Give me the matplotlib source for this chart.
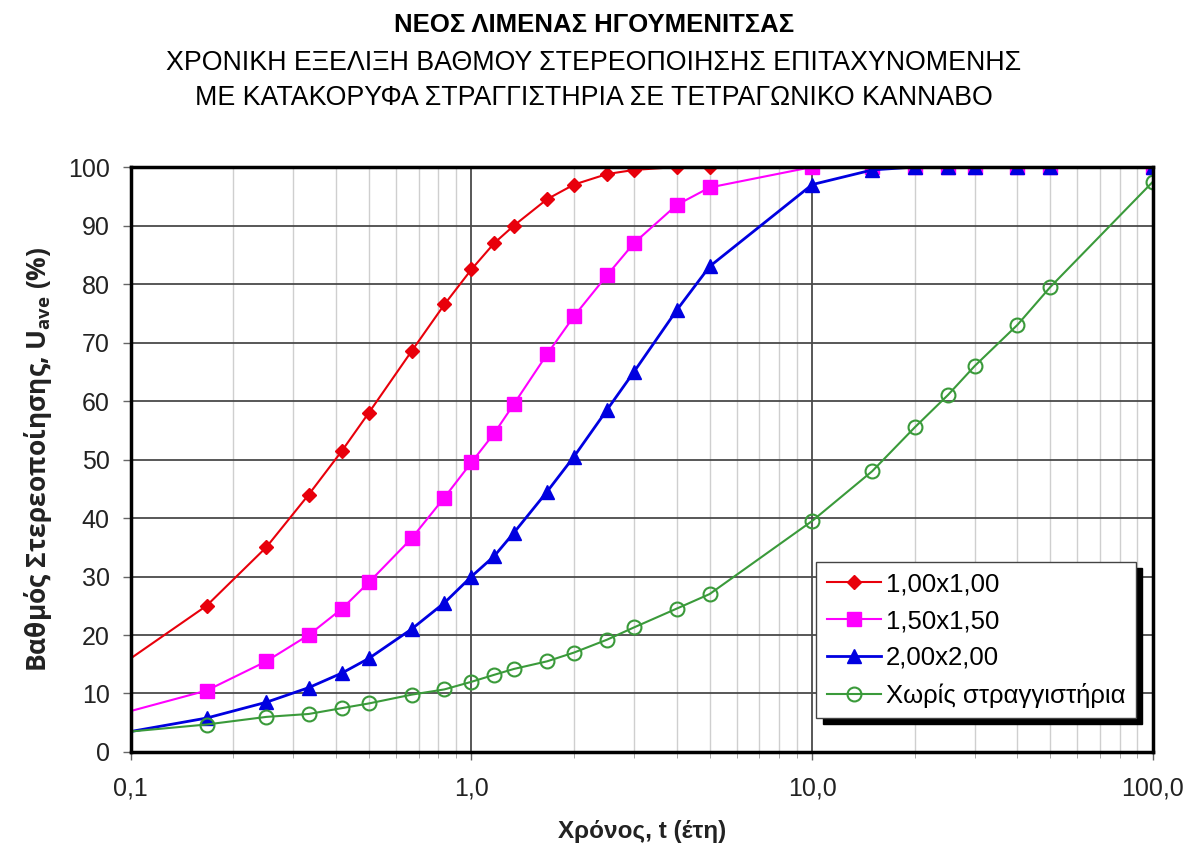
import matplotlib
matplotlib.use("Agg")
import matplotlib.pyplot as plt
from matplotlib.patches import Shadow
from matplotlib.ticker import FixedLocator, LogLocator, NullFormatter

plt.rcParams['font.family'] = ['Liberation Sans', 'DejaVu Sans']

# time in years
t = [0.1, 0.167, 0.25, 0.333, 0.417, 0.5, 0.667, 0.833, 1.0, 1.167, 1.333, 1.667,
     2.0, 2.5, 3.0, 4.0, 5.0, 10.0, 15.0, 20.0, 25.0, 30.0, 40.0, 50.0, 100.0]

u_100 = [16, 25, 35, 44, 51.5, 58, 68.5, 76.5, 82.5, 87, 90, 94.5,
         97, 98.8, 99.5, 100, 100, 100, 100, 100, 100, 100, 100, 100, 100]
u_150 = [7, 10.5, 15.5, 20, 24.5, 29, 36.5, 43.5, 49.5, 54.5, 59.5, 68,
         74.5, 81.5, 87, 93.5, 96.5, 100, 100, 100, 100, 100, 100, 100, 100]
u_200 = [3.5, 5.8, 8.5, 11, 13.5, 16, 21, 25.5, 30, 33.5, 37.5, 44.5,
         50.5, 58.5, 65, 75.5, 83, 97, 99.5, 100, 100, 100, 100, 100, 100]
u_none = [3.5, 4.7, 6, 6.5, 7.5, 8.3, 9.8, 10.7, 12, 13.2, 14.2, 15.5,
          17, 19.2, 21.3, 24.5, 27, 39.5, 48, 55.5, 61, 66, 73, 79.5, 97.5]

labels = ["1,00x1,00", "1,50x1,50", "2,00x2,00", "Χωρίς στραγγιστήρια"]
xtick_vals = [0.1, 1, 10, 100]
xtick_text = ["0,1", "1,0", "10,0", "100,0"]

fig = plt.figure(figsize=(11.88, 8.5), dpi=100)
ax = fig.add_axes([0.110, 0.1153, 0.8605, 0.6882])

ax.plot(t, u_100, color='#E8000B', lw=1.5, marker='D', ms=7, markevery=slice(1, None),
        label=labels[0])
ax.plot(t, u_150, color='#FF00FF', lw=1.5, marker='s', ms=10, markevery=slice(1, None),
        label=labels[1])
ax.plot(t, u_200, color='#0000E0', lw=2.0, marker='^', ms=10, markevery=slice(1, None),
        label=labels[2])
ax.plot(t, u_none, color='#3A9A3A', lw=1.5, marker='o', ms=10, mfc='none', mew=1.5,
        markevery=slice(1, None), label=labels[3])

ax.set_xscale('log')
ax.set_xlim(0.1, 100)
ax.set_ylim(0, 100)
ax.set_yticks(range(0, 101, 10))
ax.xaxis.set_major_locator(FixedLocator(xtick_vals))
ax.set_xticklabels(xtick_text)
ax.xaxis.set_minor_locator(LogLocator(base=10, subs=range(2, 10)))
ax.xaxis.set_minor_formatter(NullFormatter())

ax.grid(axis='y', which='major', color='#4a4a4a', lw=1.3)
ax.grid(axis='x', which='major', color='#4a4a4a', lw=1.3)
ax.grid(axis='x', which='minor', color='#cfcfcf', lw=1.0)
ax.set_axisbelow(True)

for s in ax.spines.values():
    s.set_linewidth(2.5)
    s.set_color('black')

ax.tick_params(axis='both', which='major', labelsize=18, length=6, width=1,
               color='#666666', labelcolor='#222222')
ax.tick_params(axis='x', which='major', pad=12)
ax.tick_params(axis='y', which='major', pad=9)
ax.tick_params(axis='x', which='minor', length=4, color='#999999')

ax.set_xlabel("Χρόνος, t (έτη)", fontsize=17.5, fontweight='bold', labelpad=14,
              color='#222222')
ax.set_ylabel(r"Βαθμός Στερεοποίησης, U$_{\mathregular{ave}}$ (%)", fontsize=19,
              fontweight='bold', labelpad=10, color='#222222',
              family=['Open Sans', 'Liberation Sans'])

title_font = ['Liberation Sans Narrow', 'Liberation Sans']
fig.text(0.5, 0.971, "ΝΕΟΣ ΛΙΜΕΝΑΣ ΗΓΟΥΜΕΝΙΤΣΑΣ", ha='center', va='center',
         fontsize=18.5, fontweight='bold', family=title_font)
fig.text(0.5, 0.926, "ΧΡΟΝΙΚΗ ΕΞΕΛΙΞΗ ΒΑΘΜΟΥ ΣΤΕΡΕΟΠΟΙΗΣΗΣ ΕΠΙΤΑΧΥΝΟΜΕΝΗΣ",
         ha='center', va='center', fontsize=19.3, family=title_font)
fig.text(0.5, 0.885, "ΜΕ ΚΑΤΑΚΟΡΥΦΑ ΣΤΡΑΓΓΙΣΤΗΡΙΑ ΣΕ ΤΕΤΡΑΓΩΝΙΚΟ ΚΑΝΝΑΒΟ",
         ha='center', va='center', fontsize=19.3, family=title_font)

leg = ax.legend(loc='lower right', bbox_to_anchor=(0.983, 0.058), borderaxespad=0,
                fontsize=18.5, fancybox=False, framealpha=1, edgecolor='#444444',
                handlelength=2.1, handletextpad=0.2, labelspacing=0.5,
                borderpad=0.4)
leg.get_frame().set_linewidth(1.0)

# thicker offset shadow under the legend box
fig.canvas.draw()
shadow = Shadow(leg.legendPatch, 4.5, -4.5, color='black', alpha=1, zorder=4.9)
shadow.set_clip_on(False)
ax.add_artist(shadow)

fig.savefig("out.png", dpi=100)
